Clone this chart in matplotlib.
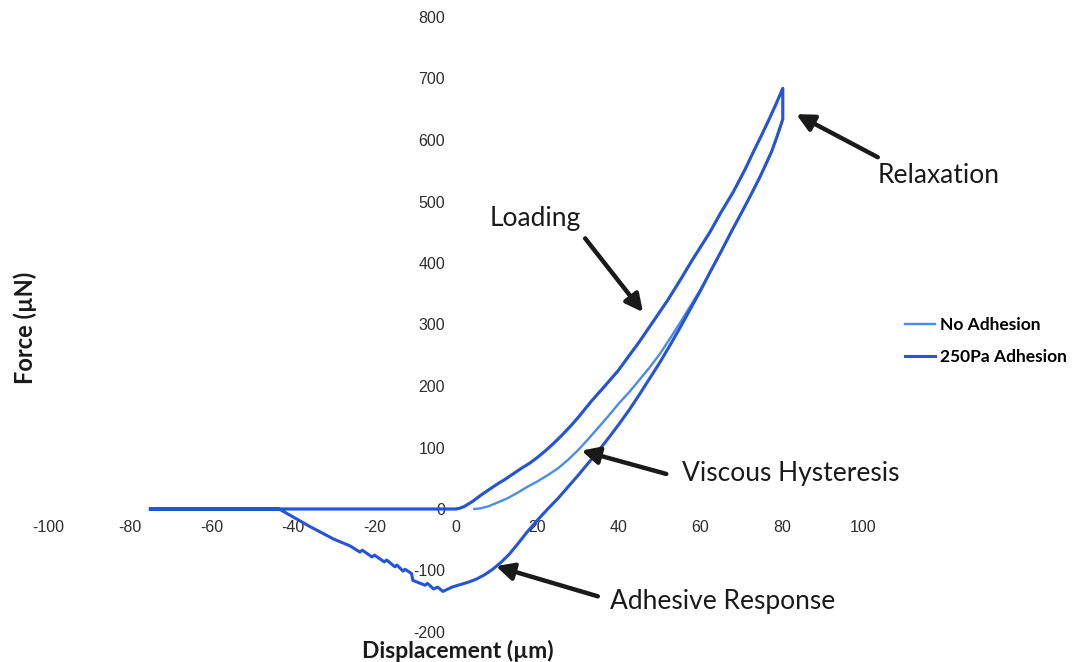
import numpy as np
import matplotlib
matplotlib.use("Agg")
import matplotlib.pyplot as plt

plt.rcParams["axes.unicode_minus"] = False

# approach: probe moves in along zero force
approach_x = [-75.0, 0.0]
approach_y = [0.0, 0.0]

# loading branch (shared by both cases)
load_x = [0, 1, 2, 3, 4, 5, 6, 8, 10, 12, 14, 16, 18.2, 20, 22, 24, 26, 28, 30, 33.3, 36,
          39.8, 42, 45, 48.4, 52, 55, 58, 62.3, 65, 68, 71, 73, 75, 77, 78.5, 80.2]
load_y = [0, 1.5, 4, 8, 12, 17, 22, 31, 40, 48, 57, 66, 75, 84, 95, 107, 120, 134, 149, 176, 196,
          225, 245, 272, 305, 340, 372, 405, 450, 482, 515, 553, 581, 608, 636, 658, 684]

# unloading, 250Pa adhesion (after relaxation at max displacement)
unload_adh_x = [80.2, 79.6, 78.8, 77.5, 76, 74.6, 72, 70, 67.5, 65, 62.5, 60, 57.5, 55, 52.5, 50,
                47.5, 45, 42.5, 40, 37.5, 35, 32.5, 30, 27.5, 25, 22.5, 20, 17.5, 15, 13, 11, 9,
                7, 5, 3, 1, -1, -3.2]
unload_adh_y = [634, 622, 606, 582, 560, 540, 506, 481, 450, 418, 387, 355, 325, 295, 266, 238,
                212, 186, 161, 138, 116, 95, 75, 55, 36, 17, 0, -18, -37, -58, -74, -87, -98,
                -107, -114, -119, -123, -127, -134]

# stick-slip pull-off back to zero force
pull_x = [-4.5, -5.5, -7.0, -7.6, -10.6, -10.9, -12.5, -13.0, -14.5, -15.0, -17.0,
          -17.6, -20.0, -20.6, -23.0, -23.6, -26.0, -30.0, -36.0, -43.4, -75.0]
pull_y = [-127, -130, -121, -124, -116, -105, -98, -101, -91, -94, -83,
          -86, -75, -78, -67, -70, -60, -49, -28, 0, 0]

# unloading, no adhesion (joins the adhesive curve above ~60 um)
unload_free_x = [80.2, 79.6, 78.8, 77.5, 76, 74.6, 72, 70, 67.5, 65, 62.5, 60, 57.5, 55, 52.5, 50,
                 47.5, 45, 42.5, 40, 37.5, 35, 32.5, 30, 27.5, 25, 22.5, 20, 17.5, 15, 12.5, 10,
                 8, 6, 4.5]
unload_free_y = [634, 622, 606, 582, 560, 540, 506, 481, 450, 418, 387, 357, 330, 303, 277, 252,
                 230, 210, 190, 172, 152, 133, 114, 96, 80, 66, 55, 45, 36, 26, 17, 10,
                 4.5, 1, 0]

x_ticks = [-100, -80, -60, -40, -20, 0, 20, 40, 60, 80, 100]
y_ticks = [-200, -100, 0, 100, 200, 300, 400, 500, 600, 700, 800]

LIGHT = "#4b8ce8"
DARK = "#2554d6"

fig = plt.figure(figsize=(10.74, 6.62), dpi=100)
ax = fig.add_axes([48.5 / 1074, 30 / 662, 815 / 1074, 615 / 662])

free_x = approach_x + load_x + unload_free_x
free_y = approach_y + load_y + unload_free_y
adh_x = approach_x + load_x + unload_adh_x + pull_x
adh_y = approach_y + load_y + unload_adh_y + pull_y

ax.plot(free_x, free_y, color=LIGHT, lw=1.7, label="No Adhesion", solid_joinstyle="round")
ax.plot(adh_x, adh_y, color=DARK, lw=2.2, label="250Pa Adhesion", solid_joinstyle="round")

ax.set_xlim(-100, 100)
ax.set_ylim(-200, 800)
ax.set_xticks(x_ticks)
ax.set_yticks(y_ticks)
ax.spines["left"].set_position("zero")
ax.spines["bottom"].set_position("zero")
for s in ax.spines.values():
    s.set_color("none")
ax.tick_params(length=0, labelsize=11.5, labelcolor="#2e2e2e", pad=8,
               labelfontfamily="Liberation Sans")

fig.text(25 / 1074, 1 - 328 / 662, "Force (µN)", rotation=90, ha="center", va="center",
         fontsize=17, fontweight="bold", family="Lato", color="#1a1a1a")
fig.text(458 / 1074, 1 - 651 / 662, "Displacement (µm)", ha="center", va="center",
         fontsize=16.5, fontweight="bold", family="Lato", color="#1a1a1a")

fig.legend(loc="upper left", bbox_to_anchor=(905 / 1074, 1 - 317 / 662), frameon=False,
           borderpad=0, borderaxespad=0,
           handlelength=1.7, handletextpad=0.3, labelspacing=0.95,
           prop={"family": "Lato", "weight": "bold", "size": 12.5})

# annotations with arrows (positions in data units)
arrow = dict(arrowstyle="-|>", lw=3.2, color="#1a1a1a", mutation_scale=26, shrinkA=0, shrinkB=0)
notes = [
    ("Loading", (8.3, 472), (31.7, 440), (45.9, 320)),
    ("Relaxation", (103.5, 542), (103.5, 572), (83.5, 642)),
    ("Viscous Hysteresis", (55.5, 58), (51.6, 57), (30.8, 95)),
    ("Adhesive Response", (37.8, -151), (34.8, -142), (9.8, -93)),
]
for label, text_xy, tail, head in notes:
    ax.text(text_xy[0], text_xy[1], label, fontsize=19, family="Lato", color="#1a1a1a",
            ha="left", va="center")
    ax.annotate("", xy=head, xytext=tail, arrowprops=arrow)

fig.savefig("out.png", dpi=100, facecolor="white")
